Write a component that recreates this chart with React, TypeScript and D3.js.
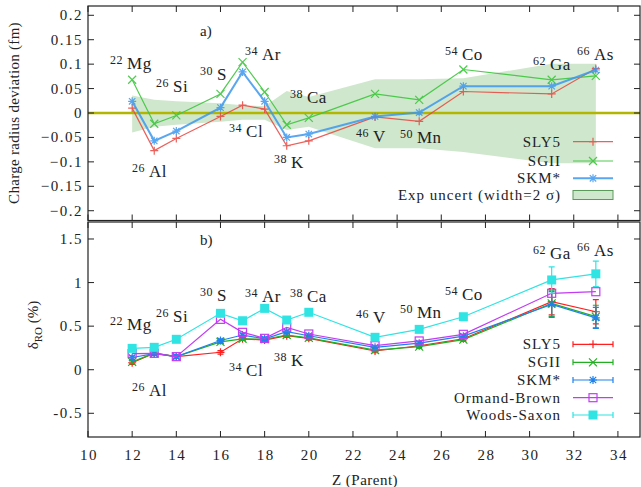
import React from "react";
import * as d3 from "d3";

// ---------- data ----------
const Z = [12, 13, 14, 16, 17, 18, 19, 20, 23, 25, 27, 31, 33];

// panel a) charge radius deviation (fm)
const sly5Dev = [0.010, -0.077, -0.052, -0.007, 0.016, 0.008, -0.067, -0.057, -0.008, -0.017, 0.044, 0.039, 0.091];
const sgiiDev = [0.068, -0.022, -0.005, 0.039, 0.104, 0.043, -0.024, -0.010, 0.039, 0.027, 0.089, 0.068, 0.076];
const skmDev = [0.024, -0.057, -0.037, 0.011, 0.084, 0.024, -0.050, -0.043, -0.007, 0.001, 0.055, 0.055, 0.088];
const expUpper = [0.036, 0.027, 0.024, 0.020, 0.016, 0.014, 0.045, 0.033, 0.069, 0.069, 0.071, 0.101, 0.101];
const expLower = [-0.040, -0.028, -0.024, -0.018, -0.014, -0.014, -0.035, -0.028, -0.072, -0.072, -0.080, -0.103, -0.103];

// panel b) delta_RO (%)
const sly5Dro = [0.08, 0.19, 0.15, 0.20, 0.355, 0.34, 0.39, 0.36, 0.215, 0.275, 0.355, 0.78, 0.665];
const sgiiDro = [0.09, 0.19, 0.15, 0.32, 0.355, 0.35, 0.398, 0.365, 0.226, 0.265, 0.345, 0.762, 0.61];
const skmDro = [0.14, 0.185, 0.15, 0.335, 0.398, 0.355, 0.436, 0.39, 0.257, 0.305, 0.385, 0.75, 0.595];
const obDro = [0.185, 0.188, 0.15, 0.578, 0.429, 0.36, 0.486, 0.41, 0.276, 0.33, 0.406, 0.877, 0.895];
const wsDro = [0.245, 0.257, 0.349, 0.647, 0.562, 0.704, 0.57, 0.659, 0.372, 0.463, 0.608, 1.03, 1.10];
const sly5Err = [0.02, 0.02, 0.02, 0.02, 0.02, 0.02, 0.02, 0.02, 0.02, 0.02, 0.02, 0.15, 0.14];
const sgiiErr = [0.02, 0.02, 0.02, 0.02, 0.02, 0.02, 0.02, 0.02, 0.02, 0.02, 0.02, 0.15, 0.13];
const skmErr = [0.02, 0.02, 0.02, 0.02, 0.02, 0.02, 0.02, 0.02, 0.02, 0.02, 0.02, 0.15, 0.12];
const wsErr = [0.01, 0.01, 0.01, 0.01, 0.01, 0.01, 0.01, 0.01, 0.01, 0.01, 0.01, 0.15, 0.145];

// nuclide labels
const nucMass = ["22", "26", "26", "30", "34", "34", "38", "38", "46", "50", "54", "62", "66"];
const nucSym = ["Mg", "Si", "Al", "S", "Ar", "Cl", "K", "Ca", "V", "Mn", "Co", "Ga", "As"];
const nucLabelZ = [11.0, 13.08, 11.99, 15.07, 17.11, 16.39, 18.42, 19.15, 22.14, 24.13, 26.17, 30.15, 32.15];
const nucTopY = [0.090, 0.043, -0.130, 0.068, 0.109, -0.050, -0.112, 0.021, -0.059, -0.061, 0.109, 0.088, 0.109];
const nucBotY = [0.456, 0.551, -0.302, 0.789, 0.780, -0.072, 0.042, 0.780, 0.539, 0.597, 0.800, 1.267, 1.305];

// axes ticks
const xTicks = [10, 12, 14, 16, 18, 20, 22, 24, 26, 28, 30, 32, 34];
const topYTicks = [-0.2, -0.15, -0.1, -0.05, 0, 0.05, 0.1, 0.15, 0.2];
const botYTicks = [-0.5, 0, 0.5, 1, 1.5];

const topLegend = ["SLY5", "SGII", "SKM*", "Exp uncert (width=2 \u03c3)"];
const botLegend = ["SLY5", "SGII", "SKM*", "Ormand-Brown", "Woods-Saxon"];

// ---------- layout ----------
const W = 641;
const H = 487;
const L = 88;
const R = 640;
const TOP = 6;
const MID1 = 220.5;
const MID2 = 222;
const BOT = 437;
const FONT = "'Liberation Serif', 'Times New Roman', serif";

const x = d3.scaleLinear().domain([10, 35]).range([L, R]);
const yTop = d3.scaleLinear().domain([-0.22, 0.219]).range([MID1, TOP]);
const yBot = d3.scaleLinear().domain([-0.772, 1.695]).range([BOT, MID2]);

type Mk = "plus" | "cross" | "star" | "osq" | "fsq";

function Marker({ t, cx, cy, c, s = 4 }: { t: Mk; cx: number; cy: number; c: string; s?: number }) {
  if (t === "plus") return <path d={`M${cx - s},${cy}H${cx + s}M${cx},${cy - s}V${cy + s}`} stroke={c} strokeWidth={1.2} fill="none" />;
  if (t === "cross") return <path d={`M${cx - s},${cy - s}L${cx + s},${cy + s}M${cx - s},${cy + s}L${cx + s},${cy - s}`} stroke={c} strokeWidth={1.2} fill="none" />;
  if (t === "star")
    return (
      <path
        d={`M${cx - s},${cy}H${cx + s}M${cx},${cy - s}V${cy + s}M${cx - s * 0.8},${cy - s * 0.8}L${cx + s * 0.8},${cy + s * 0.8}M${cx - s * 0.8},${cy + s * 0.8}L${cx + s * 0.8},${cy - s * 0.8}`}
        stroke={c}
        strokeWidth={1.2}
        fill="none"
      />
    );
  if (t === "osq") return <rect x={cx - s} y={cy - s} width={2 * s} height={2 * s} stroke={c} strokeWidth={1.2} fill="none" />;
  return <rect x={cx - s} y={cy - s} width={2 * s} height={2 * s} fill={c} />;
}

const topSeries = [
  { name: "SLY5", vals: sly5Dev, color: "#e8463f", w: 1.2, mk: "plus" as Mk, op: 0.85 },
  { name: "SGII", vals: sgiiDev, color: "#3ec63e", w: 1.2, mk: "cross" as Mk, op: 0.9 },
  { name: "SKM*", vals: skmDev, color: "#3d98ee", w: 2, mk: "star" as Mk, op: 0.85 },
];

const botSeries = [
  { name: "SLY5", vals: sly5Dro, err: sly5Err, color: "#ff1f1f", mk: "plus" as Mk, s: 4 },
  { name: "SGII", vals: sgiiDro, err: sgiiErr, color: "#22b022", mk: "cross" as Mk, s: 4 },
  { name: "SKM*", vals: skmDro, err: skmErr, color: "#1f82ea", mk: "star" as Mk, s: 4 },
  { name: "Ormand-Brown", vals: obDro, err: null as number[] | null, color: "#c23cf2", mk: "osq" as Mk, s: 4 },
  { name: "Woods-Saxon", vals: wsDro, err: wsErr, color: "#30e4e4", mk: "fsq" as Mk, s: 4.5 },
];

function NucLabel({ px, py, mass, sym }: { px: number; py: number; mass: string; sym: string }) {
  return (
    <text x={px} y={py} fontFamily={FONT} fill="#222" style={{ letterSpacing: "0.5px" }}>
      <tspan fontSize={12} dy={-5}>{mass}</tspan>
      <tspan fontSize={17} dx={4} dy={5}>{sym}</tspan>
    </text>
  );
}

export default function App() {
  const line = (ys: (v: number) => number) =>
    d3
      .line<number>()
      .x((_, i) => x(Z[i]))
      .y((v) => ys(v));

  const band = d3
    .area<number>()
    .x((i) => x(Z[i]))
    .y0((i) => yTop(expLower[i]))
    .y1((i) => yTop(expUpper[i]));

  const topLegY = [141.7, 161, 178.3, 195];
  const botLegY = [344.3, 362.3, 380, 397.7, 415];
  const legTextX = 561;
  const legL = 573;
  const legR = 613;
  const legM = 593;

  return (
    <svg width={W} height={H} style={{ position: "absolute", left: 0, top: 0, background: "#fff" }}>
      <rect x={0} y={0} width={W} height={H} fill="#fff" />

      {/* ===== top panel ===== */}
      <path d={band(Z.map((_, i) => i)) || ""} fill="#cfe7cd" />
      <line x1={L} x2={R} y1={yTop(0)} y2={yTop(0)} stroke="#b3b600" strokeWidth={2.5} />
      {topSeries.map((s) => (
        <g key={s.name} opacity={s.op}>
          <path d={line(yTop)(s.vals) || ""} fill="none" stroke={s.color} strokeWidth={s.w} />
          {s.vals.map((v, i) => (
            <Marker key={i} t={s.mk} cx={x(Z[i])} cy={yTop(v)} c={s.color} />
          ))}
        </g>
      ))}

      {/* top legend */}
      {topLegend.map((name, i) => (
        <text key={name} x={legTextX} y={topLegY[i] + 5} textAnchor="end" fontFamily={FONT} fontSize={15} fill="#222" style={{ letterSpacing: "1px" }}>
          {name}
        </text>
      ))}
      {topSeries.map((s, i) => (
        <g key={"tl" + i} opacity={s.op}>
          <line x1={legL} x2={legR} y1={topLegY[i]} y2={topLegY[i]} stroke={s.color} strokeWidth={s.w} />
          <Marker t={s.mk} cx={legM} cy={topLegY[i]} c={s.color} />
        </g>
      ))}
      <rect x={legL} y={topLegY[3] - 4.5} width={legR - legL} height={9} fill="#cfe7cd" stroke="#5b9a5b" strokeWidth={1} />

      {/* top labels */}
      {nucSym.map((sym, i) => (
        <NucLabel key={"t" + sym} px={x(nucLabelZ[i])} py={yTop(nucTopY[i])} mass={nucMass[i]} sym={sym} />
      ))}
      <text x={200} y={36} fontFamily={FONT} fontSize={15} fill="#222">a)</text>

      {/* ===== bottom panel ===== */}
      {botSeries.map((s) => (
        <g key={s.name}>
          <path d={line(yBot)(s.vals) || ""} fill="none" stroke={s.color} strokeWidth={1.2} />
          {s.err &&
            s.vals.map((v, i) => {
              const cx = x(Z[i]);
              const y1 = yBot(v - (s.err as number[])[i]);
              const y2 = yBot(v + (s.err as number[])[i]);
              return (
                <path key={"e" + i} d={`M${cx},${y1}V${y2}M${cx - 3},${y1}H${cx + 3}M${cx - 3},${y2}H${cx + 3}`} stroke={s.color} strokeWidth={1.2} fill="none" />
              );
            })}
          {s.vals.map((v, i) => (
            <Marker key={i} t={s.mk} cx={x(Z[i])} cy={yBot(v)} c={s.color} s={s.s} />
          ))}
        </g>
      ))}

      {/* bottom legend */}
      {botLegend.map((name, i) => (
        <text key={name} x={legTextX} y={botLegY[i] + 5} textAnchor="end" fontFamily={FONT} fontSize={15} fill="#222" style={{ letterSpacing: "1px" }}>
          {name}
        </text>
      ))}
      {botSeries.map((s, i) => (
        <g key={"bl" + i}>
          <line x1={legL} x2={legR} y1={botLegY[i]} y2={botLegY[i]} stroke={s.color} strokeWidth={1.2} />
          {s.err && (
            <path d={`M${legL},${botLegY[i] - 3}V${botLegY[i] + 3}M${legR},${botLegY[i] - 3}V${botLegY[i] + 3}`} stroke={s.color} strokeWidth={1.2} />
          )}
          <Marker t={s.mk} cx={legM} cy={botLegY[i]} c={s.color} s={s.s} />
        </g>
      ))}

      {nucSym.map((sym, i) => (
        <NucLabel key={"b" + sym} px={x(nucLabelZ[i])} py={yBot(nucBotY[i])} mass={nucMass[i]} sym={sym} />
      ))}
      <text x={200} y={245} fontFamily={FONT} fontSize={15} fill="#222">b)</text>

      {/* ===== frames & ticks ===== */}
      <rect x={L} y={TOP} width={R - L} height={MID1 - TOP} fill="none" stroke="#222" strokeWidth={1.2} />
      <rect x={L} y={MID2} width={R - L} height={BOT - MID2} fill="none" stroke="#222" strokeWidth={1.2} />

      {topYTicks.map((t) => (
        <g key={"ty" + t}>
          <line x1={L} x2={L + 6} y1={yTop(t)} y2={yTop(t)} stroke="#222" />
          <line x1={R - 6} x2={R} y1={yTop(t)} y2={yTop(t)} stroke="#222" />
          <text x={83} y={yTop(t) + 5} textAnchor="end" fontFamily={FONT} fontSize={15} fill="#222" style={{ letterSpacing: "1.5px" }}>
            {d3.format("")(+t.toFixed(2))}
          </text>
        </g>
      ))}
      {botYTicks.map((t) => (
        <g key={"by" + t}>
          <line x1={L} x2={L + 6} y1={yBot(t)} y2={yBot(t)} stroke="#222" />
          <line x1={R - 6} x2={R} y1={yBot(t)} y2={yBot(t)} stroke="#222" />
          <text x={83} y={yBot(t) + 5} textAnchor="end" fontFamily={FONT} fontSize={15} fill="#222" style={{ letterSpacing: "1.5px" }}>
            {String(t)}
          </text>
        </g>
      ))}
      {xTicks.map((t) => (
        <g key={"x" + t}>
          <line x1={x(t)} x2={x(t)} y1={TOP} y2={TOP + 6} stroke="#222" />
          <line x1={x(t)} x2={x(t)} y1={MID1} y2={MID1 - 6} stroke="#222" />
          <line x1={x(t)} x2={x(t)} y1={MID2} y2={MID2 + 6} stroke="#222" />
          <line x1={x(t)} x2={x(t)} y1={BOT} y2={BOT - 6} stroke="#222" />
          <text x={x(t) + 1} y={460} textAnchor="middle" fontFamily={FONT} fontSize={15} fill="#222" style={{ letterSpacing: "1.5px" }}>
            {t}
          </text>
        </g>
      ))}

      {/* axis titles */}
      <text transform="translate(19,113) rotate(-90)" textAnchor="middle" fontFamily={FONT} fontSize={15} fill="#222" style={{ letterSpacing: "0.3px" }}>
        Charge radius deviation (fm)
      </text>
      <text transform="translate(38,325) rotate(-90)" textAnchor="middle" fontFamily={FONT} fontSize={15} fill="#222">
        <tspan>δ</tspan>
        <tspan fontSize={11} dy={4}>RO</tspan>
        <tspan dy={-4}> (%)</tspan>
      </text>
      <text x={365} y={485} textAnchor="middle" fontFamily={FONT} fontSize={15} fill="#222" style={{ letterSpacing: "0.5px" }}>
        Z (Parent)
      </text>
    </svg>
  );
}
